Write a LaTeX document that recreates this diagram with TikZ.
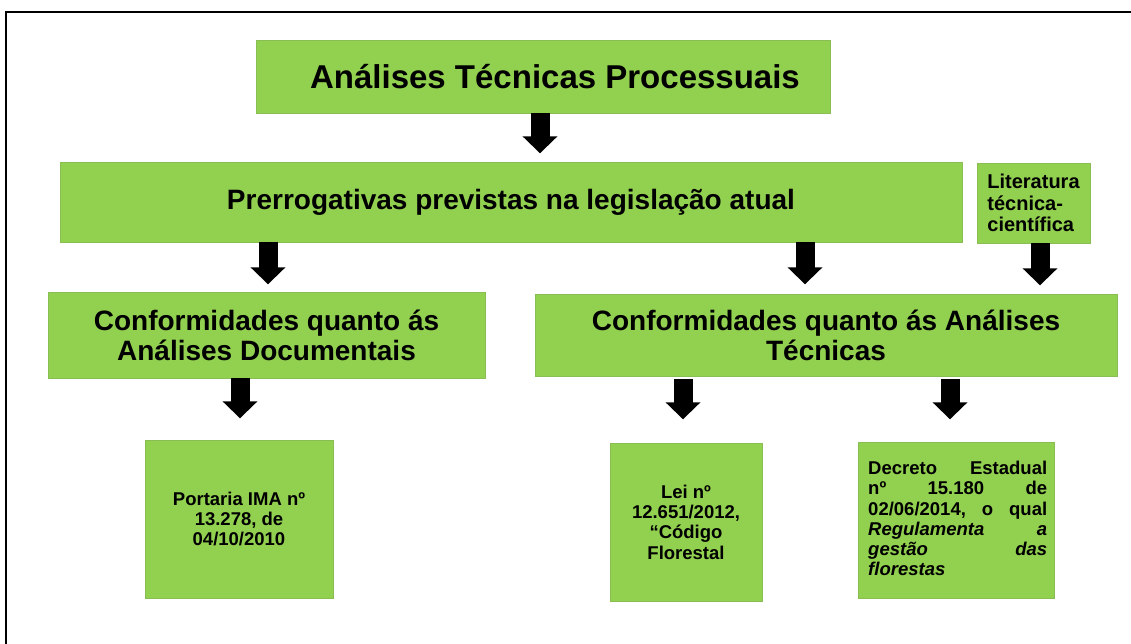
\documentclass[tikz,border=0pt]{standalone}
\usepackage{fontspec}
\setmainfont{Liberation Sans}
\usetikzlibrary{arrows.meta}
\definecolor{boxgreen}{RGB}{146,208,80}
\definecolor{boxedge}{RGB}{136,190,84}
\tikzset{
  box/.style={fill=boxgreen, draw=boxedge, line width=0.6pt, inner sep=0pt, align=center},
  fs/.style 2 args={font={\bfseries\fontsize{#1}{#2}\selectfont}},
  bigarrow/.style={draw=black, line width=19pt, -{Triangle[width=34pt,length=17pt]}},
  frameline/.style={draw=black, line width=1.5pt}
}
\begin{document}
\begin{tikzpicture}[x=1pt,y=-1pt]
\useasboundingbox (0,0) rectangle (1131,644);
\draw[frameline] (6,644) -- (6,12) -- (1131,12);

\node[box, fs={33}{40}, minimum width=574pt, minimum height=73pt] (t) at (543,76.5)
  {\hspace*{24pt}Análises Técnicas Processuais};
\node[box, fs={28}{34}, minimum width=902pt, minimum height=80pt] (b2) at (511,202)
  {Prerrogativas previstas na legislação atual};
\node[box, fs={20}{21.5}, minimum width=113pt, minimum height=80pt, align=left] (lit) at (1033.5,203)
  {Literatura\\técnica-\\científica};
\node[box, fs={28}{30}, minimum width=437pt, minimum height=86pt] (b3) at (266.5,335)
  {Conformidades quanto ás\\Análises Documentais};
\node[box, fs={28}{30}, minimum width=582pt, minimum height=82pt] (b4) at (826,335)
  {Conformidades quanto ás Análises\\Técnicas};
\node[box, fs={18.5}{20.3}, minimum width=188pt, minimum height=158pt] (port) at (239,519)
  {Portaria IMA nº\\13.278, de\\04/10/2010};
\node[box, fs={18.5}{20.3}, minimum width=152pt, minimum height=158pt] (lei) at (686,522)
  {Lei nº\\12.651/2012,\\“Código\\Florestal};
\node[box, minimum width=196pt, minimum height=156pt] (dec) at (956,520) {};
\node[anchor=north west, inner sep=0pt, text width=179pt, align=left, fs={18.5}{20.2}] (dect) at (868,461)
  {Decreto\hfill Estadual\\
   nº\hfill 15.180\hfill de\\
   02/06/2014,\hfill o\hfill qual\\
   \textit{Regulamenta}\hfill\textit{a}\\
   \textit{gestão}\hfill\textit{das}\\
   \textit{florestas}};

\coordinate (a1) at (540,0);
\coordinate (a2) at (268,0);
\coordinate (a3) at (805,0);
\coordinate (a4) at (1040,0);
\coordinate (a5) at (240,0);
\coordinate (a6) at (683,0);
\coordinate (a7) at (950,0);

\draw[bigarrow] (t.south -| a1) -- ++(0,40);
\draw[bigarrow] (b2.south -| a2) -- ++(0,42);
\draw[bigarrow] (b2.south -| a3) -- ++(0,42);
\draw[bigarrow] (lit.south -| a4) -- ++(0,42);
\draw[bigarrow] (b3.south -| a5) -- ++(0,40);
\draw[bigarrow] ([yshift=-3pt]b4.south -| a6) -- ++(0,40);
\draw[bigarrow] ([yshift=-3pt]b4.south -| a7) -- ++(0,40);
\end{tikzpicture}
\end{document}
